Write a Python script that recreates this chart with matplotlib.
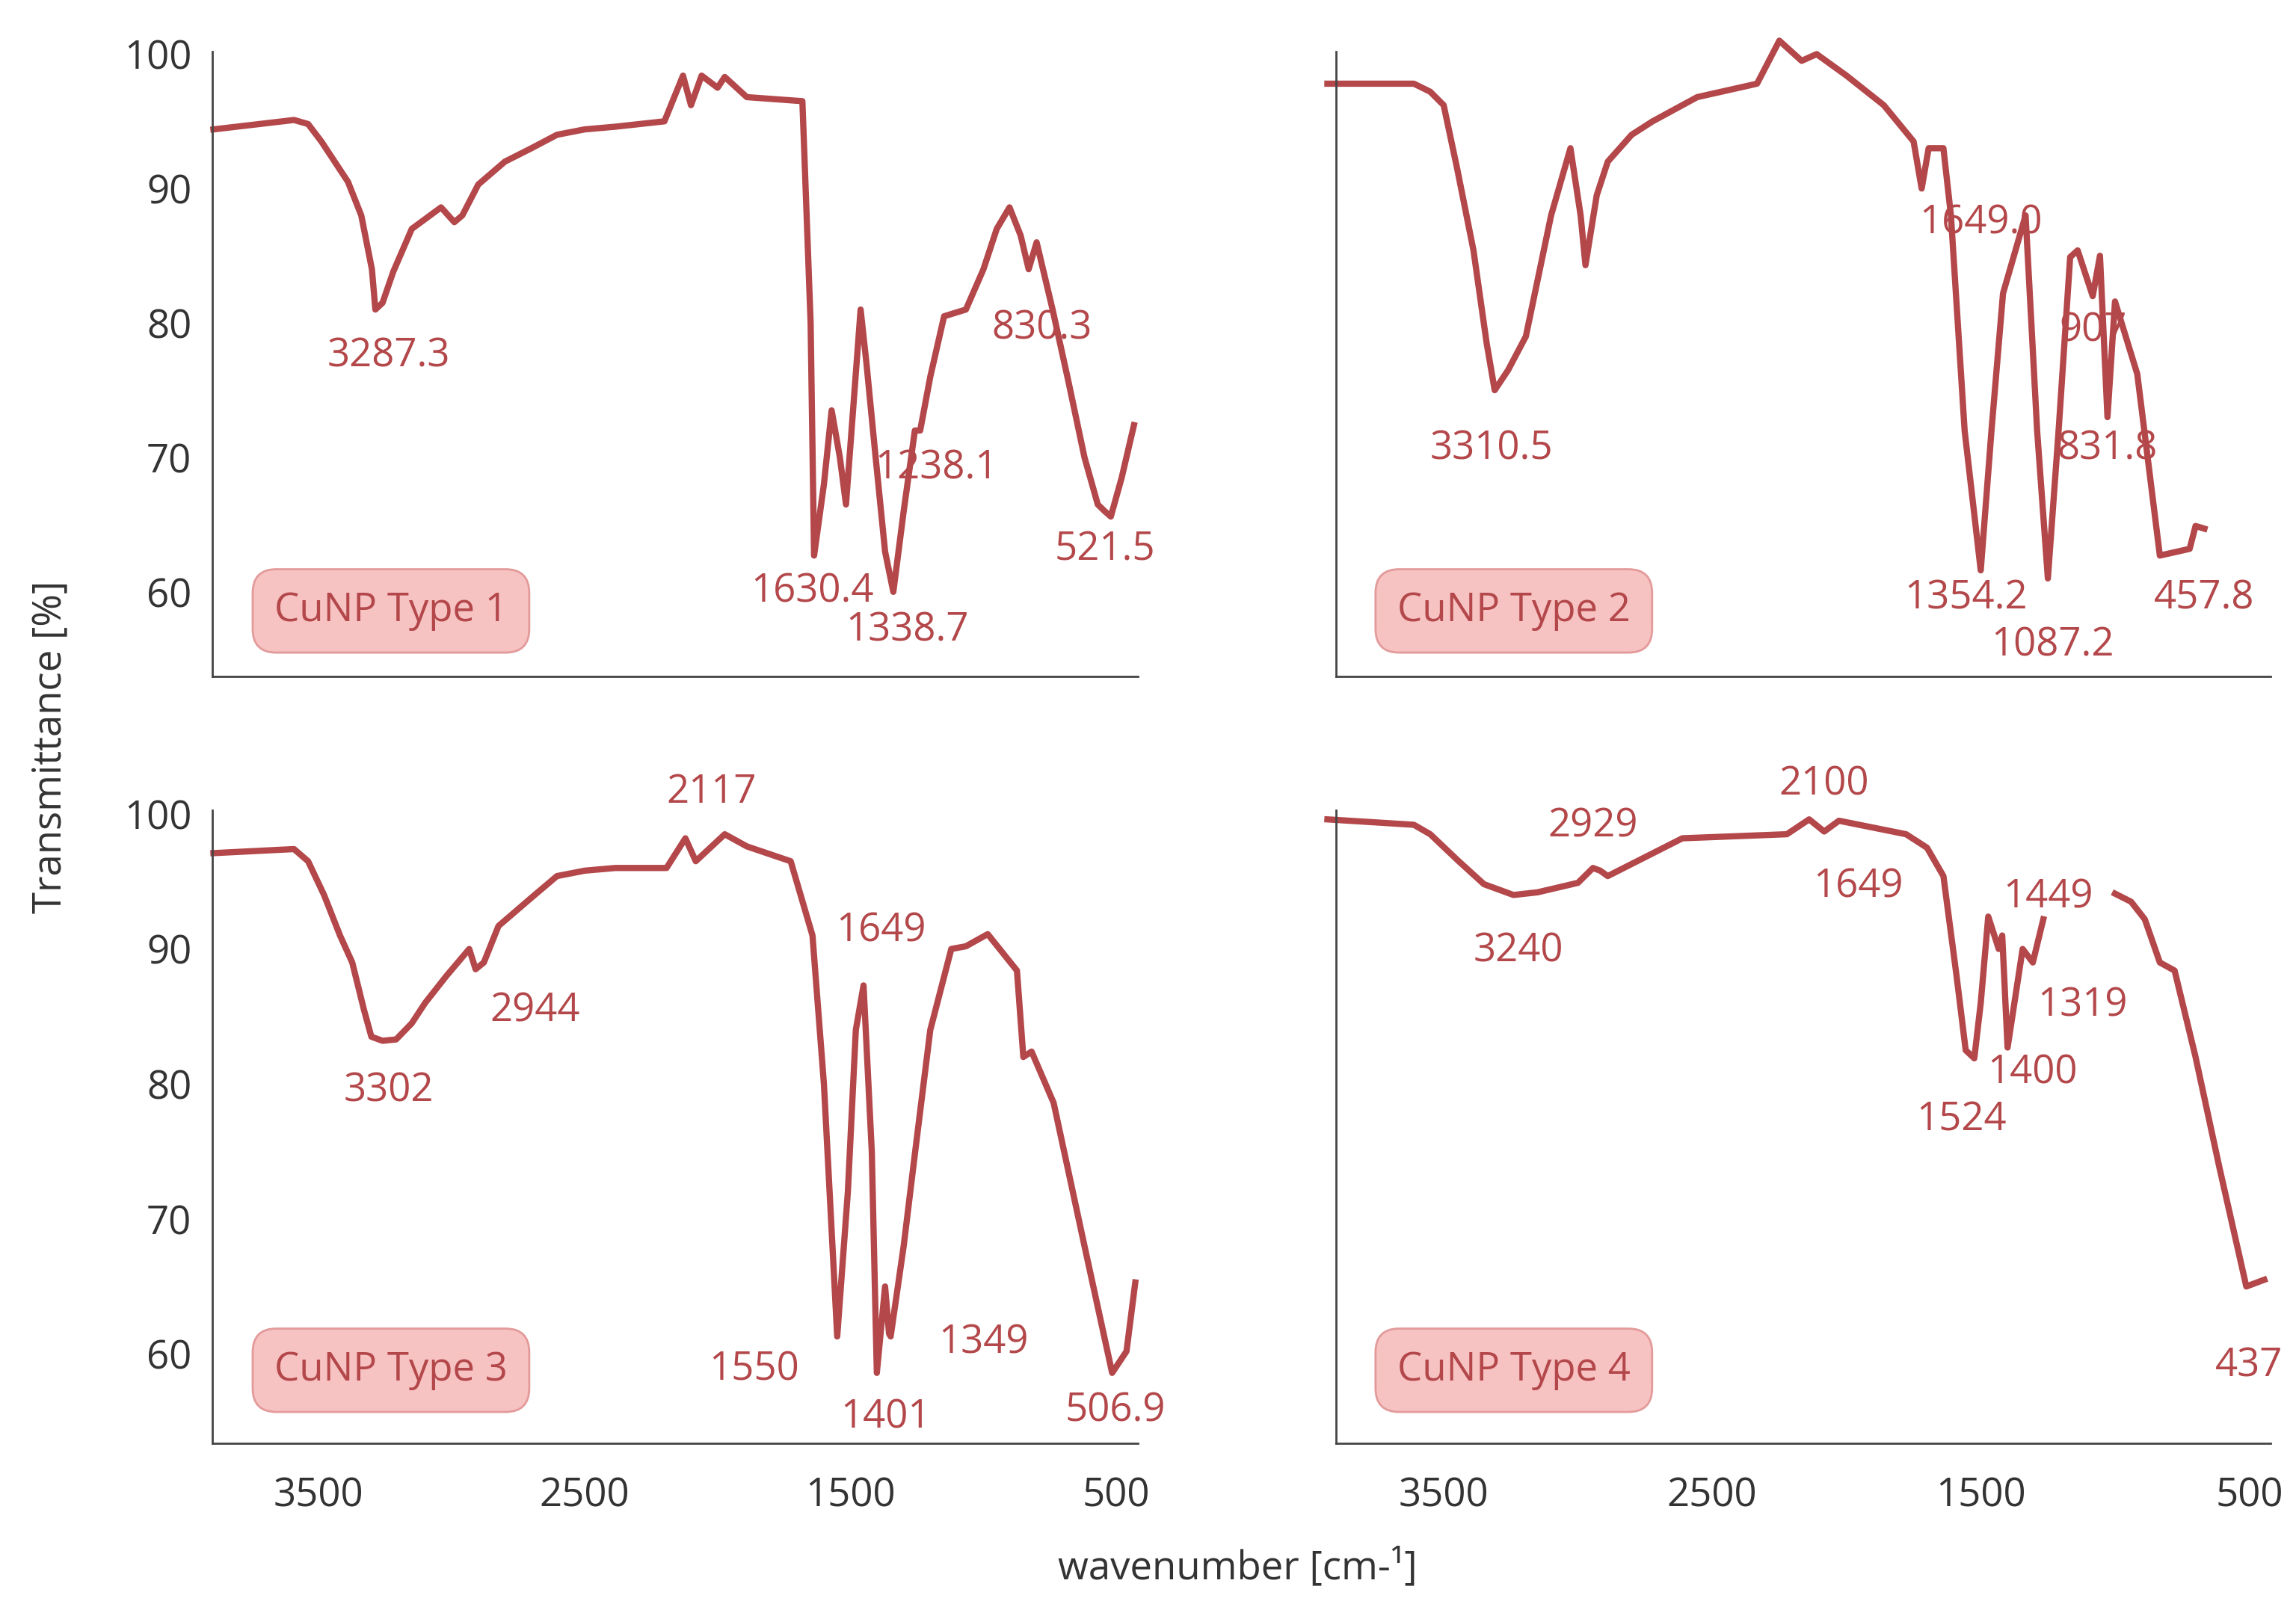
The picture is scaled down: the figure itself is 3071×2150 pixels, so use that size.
import numpy as np
import matplotlib
matplotlib.use("Agg")
import matplotlib.pyplot as plt

plt.rcParams['font.family'] = ['Open Sans', 'DejaVu Sans']

# ---- data ----
wn1 = [3896,3593,3540,3490,3440,3390,3340,3300,3287,3260,3220,3150,3040,2990,2960,2900,2800,2700,2604,2500,2385,2200,2130,2100,2060,2000,1973,1890,1681,1650,1637,1600,1571,1540,1517,1462,1440,1407,1370,1339,1300,1258,1238,1200,1148,1066,1000,950,902,860,830,800,740,681,620,570,544,521,480,434]
t1  = [94.4,95.1,94.8,93.5,92.0,90.5,88.0,84.0,81.0,81.5,83.8,87.0,88.6,87.5,88.0,90.3,92.0,93.0,94.0,94.4,94.6,95.0,98.4,96.2,98.4,97.5,98.3,96.8,96.5,80.0,62.7,68.0,73.5,70.0,66.5,81.0,77.0,70.3,63.0,60.0,66.0,72.0,72.0,76.0,80.5,81.0,84.0,87.0,88.6,86.5,84.0,86.0,81.0,75.7,70.0,66.5,66.0,65.6,68.5,72.4]

wn2 = [3933,3611,3550,3500,3450,3389,3340,3310,3260,3194,3100,3028,2990,2972,2930,2889,2800,2722,2556,2333,2250,2167,2111,2000,1861,1750,1720,1694,1639,1611,1560,1500,1460,1417,1333,1290,1250,1210,1167,1139,1083,1056,1028,1000,917,833,722,700,667]
t2  = [97.8,97.8,97.2,96.2,91.5,85.4,78.5,75.0,76.5,79.0,88.0,93.0,88.0,84.3,89.5,92.0,94.0,95.0,96.8,97.8,101.0,99.5,100.0,98.4,96.2,93.5,90.0,93.0,93.0,88.0,72.0,61.6,72.0,82.2,88.0,72.0,61.0,72.0,84.9,85.4,82.0,85.0,73.0,81.6,76.2,62.7,63.2,64.9,64.7]

wn3 = [3896,3593,3540,3480,3420,3374,3330,3302,3260,3209,3150,3100,3020,2934,2910,2879,2824,2700,2604,2500,2385,2192,2121,2082,1973,1890,1725,1643,1600,1550,1510,1480,1451,1420,1401,1370,1355,1349,1300,1258,1200,1121,1066,984,874,850,819,736,620,516,462,429]
t3  = [97.1,97.4,96.5,94.0,91.0,89.0,85.5,83.5,83.2,83.3,84.5,86.0,88.0,90.0,88.5,89.0,91.7,93.8,95.4,95.8,96.0,96.0,98.2,96.5,98.5,97.6,96.5,91.0,80.0,61.3,72.0,84.0,87.3,75.0,58.6,65.0,61.5,61.3,68.0,74.8,84.0,90.0,90.2,91.1,88.4,82.0,82.4,78.6,68.0,58.6,60.2,65.3]

wn4 = [3933,3611,3550,3444,3350,3240,3150,3000,2944,2917,2889,2611,2222,2139,2083,2028,1778,1700,1639,1590,1556,1524,1500,1472,1433,1420,1400,1344,1306,1267,1000,940,889,833,778,700,611,511,444]
t4  = [99.6,99.2,98.5,96.5,94.8,94.0,94.2,94.9,96.0,95.8,95.4,98.2,98.5,99.6,98.7,99.5,98.5,97.5,95.4,88.0,82.5,81.9,86.0,92.4,90.0,91.0,82.7,90.0,89.0,92.2,94.1,93.5,92.2,89.0,88.4,82.0,73.8,65.0,65.5]
gap4_after = 1267  # line break between 1267 and 1000

titles = ["CuNP Type 1", "CuNP Type 2", "CuNP Type 3", "CuNP Type 4"]

labels1 = [("3287.3",3236,77.5),("830.3",780,79.6),("1238.1",1176,69.2),("521.5",544,63.1),("1630.4",1643,60.0),("1338.7",1286,57.1)]
labels2 = [("3310.5",3322,70.6),("1649.0",1500,87.4),("907",1083,79.4),("831.8",1028,70.6),("1354.2",1556,59.5),("457.8",667,59.5),("1087.2",1233,56.0)]
labels3 = [("2117",2022,101.6),("1649",1385,91.3),("2944",2687,85.4),("3302",3236,79.5),("1550",1863,58.8),("1401",1368,55.3),("1349",1000,60.8),("506.9",505,55.8)]
labels4 = [("2929",2944,99.1),("2100",2083,102.2),("1649",1956,94.6),("3240",3222,89.8),("1449",1250,93.8),("1319",1122,85.8),("1400",1306,80.8),("1524",1572,77.3),("437",500,59.1)]

color = "#b3474a"
fig = plt.figure(figsize=(15.355, 10.75), dpi=200)
pos = [[0.0925,0.579,0.403,0.389],[0.582,0.579,0.407,0.389],
       [0.0925,0.102,0.403,0.394],[0.582,0.102,0.407,0.394]]
ylims = [(53.7,100.2),(53.7,100.2),(53.4,100.3),(53.4,100.3)]
datas = [(wn1,t1,labels1),(wn2,t2,labels2),(wn3,t3,labels3),(wn4,t4,labels4)]
tick_color = "#333333"
fs = 19
for i,(p,(w,t,labs)) in enumerate(zip(pos,datas)):
    ax = fig.add_axes(p)
    w = np.array(w, float); t = np.array(t, float)
    if i == 3:
        k = int(np.where(w == gap4_after)[0][0]) + 1
        w = np.insert(w, k, np.nan); t = np.insert(t, k, np.nan)
    ax.plot(w, t, color=color, lw=3.0, clip_on=False, solid_joinstyle="round")
    ax.set_xlim(3900, 420)
    ax.set_ylim(*ylims[i])
    for s in ["top","right"]:
        ax.spines[s].set_visible(False)
    for s in ["left","bottom"]:
        ax.spines[s].set_color("#444444"); ax.spines[s].set_linewidth(1.0)
    ax.set_yticks([60,70,80,90,100])
    ax.set_xticks([3500,2500,1500,500])
    ax.tick_params(axis="y", length=0, labelsize=fs, colors=tick_color, pad=10)
    ax.tick_params(axis="x", length=0, labelsize=fs, colors=tick_color, pad=16)
    if i in (1,3):
        ax.set_yticklabels([])
    if i in (0,1):
        ax.set_xticklabels([])
    for s,x,y in labs:
        ax.text(x, y, s, color=color, fontsize=fs, ha="center", va="center", clip_on=False)
    yb = 0.105 if i < 2 else 0.115
    ax.text(0.193 if i%2==0 else 0.19, yb, titles[i], transform=ax.transAxes, color=color,
            fontsize=fs, ha="center", va="center",
            bbox=dict(boxstyle="round,pad=0.55,rounding_size=0.6", fc="#f7c2c2", ec="#e39a9a", lw=1))

fig.text(0.022, 0.535, "Transmittance [%]", rotation=90, fontsize=fs, color=tick_color, ha="center", va="center")
fig.text(0.539, 0.024, "wavenumber [cm-¹]", fontsize=fs, color=tick_color, ha="center", va="center")
fig.savefig("out.png", dpi=200, facecolor="white")
